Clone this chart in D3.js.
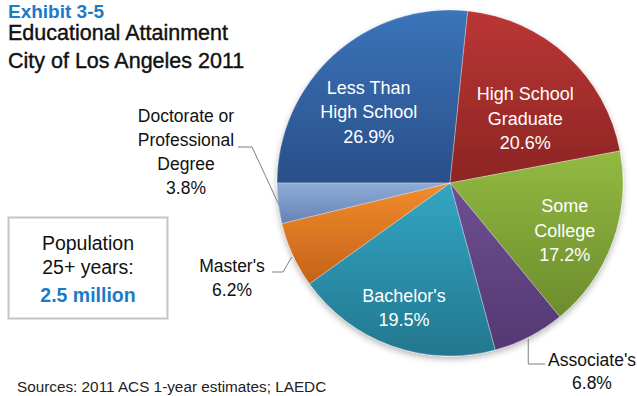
<!DOCTYPE html>
<html>
<head>
<meta charset="utf-8">
<script src="https://cdn.jsdelivr.net/npm/d3@7"></script>
<style>
  html, body { margin: 0; padding: 0; background: #fff; }
  svg { display: block; }
  text { font-family: "Liberation Sans", Arial, sans-serif; }
</style>
</head>
<body>
<svg id="chart" width="637" height="396"></svg>
<script>
// Educational attainment, population 25+ years, City of Los Angeles 2011
const categories = ["Less Than High School", "High School Graduate", "Some College",
                    "Associate's", "Bachelor's", "Master's", "Doctorate or Professional Degree"];
const shares = [26.9, 20.6, 17.2, 6.8, 19.5, 6.2, 3.8];
const labelLines = [
  ["Less Than", "High School"],
  ["High School", "Graduate"],
  ["Some", "College"],
  ["Associate's"],
  ["Bachelor's"],
  ["Master's"],
  ["Doctorate or", "Professional", "Degree"]
];
const colorsTop    = ["#3b74ba", "#bb3635", "#93ba42", "#6e4f92", "#33a6c3", "#f28c2c", "#8eabd9"];
const colorsBottom = ["#294f88", "#8c2523", "#6c8c2c", "#533872", "#23778f", "#c4621a", "#6683b5"];

const svg = d3.select("#chart");
const defs = svg.append("defs");

const cx = 450, cy = 183, R = 173;

// vertical shading for each slice
colorsTop.forEach((c, i) => {
  const g = defs.append("linearGradient")
    .attr("id", "grad" + i)
    .attr("x1", 0).attr("y1", 0).attr("x2", 0).attr("y2", 1);
  g.append("stop").attr("offset", "0%").attr("stop-color", c);
  g.append("stop").attr("offset", "100%").attr("stop-color", colorsBottom[i]);
});

const shadow = defs.append("filter").attr("id", "shadow")
  .attr("x", "-10%").attr("y", "-10%").attr("width", "120%").attr("height", "125%");
shadow.append("feDropShadow").attr("dx", 0).attr("dy", 3)
  .attr("stdDeviation", 3).attr("flood-color", "#000").attr("flood-opacity", 0.28);

// Titles
svg.append("text").attr("x", 8).attr("y", 17.5)
  .attr("font-size", 19).attr("font-weight", "bold").attr("fill", "#1b7bc9")
  .text("Exhibit 3-5");
svg.append("text").attr("x", 8).attr("y", 39.5)
  .attr("font-size", 21.5).attr("fill", "#111").attr("stroke", "#111").attr("stroke-width", 0.4)
  .text("Educational Attainment");
svg.append("text").attr("x", 8).attr("y", 67.5)
  .attr("font-size", 21.5).attr("fill", "#111").attr("stroke", "#111").attr("stroke-width", 0.4)
  .text("City of Los Angeles 2011");

// Pie
const pie = d3.pie().sort(null).value(d => d)
  .startAngle(-Math.PI / 2).endAngle(3 * Math.PI / 2);
const arcs = pie(shares);
const arc = d3.arc().innerRadius(0).outerRadius(R);

const g = svg.append("g").attr("transform", `translate(${cx},${cy})`);
g.append("g").attr("filter", "url(#shadow)")
  .selectAll("path").data(arcs).join("path")
  .attr("d", arc)
  .attr("fill", (d, i) => `url(#grad${i})`)
  .attr("stroke", "rgba(255,255,255,0.5)")
  .attr("stroke-width", 0.6);

// Inside labels: [radius as a fraction of R, position along the slice's sweep]
const inside = { 0: [0.625, 0.43], 1: [0.574, 0.59], 2: [0.718, 0.54], 4: [0.767, 0.51] };
const lineH = 24.5;
Object.entries(inside).forEach(([k, [f, t]]) => {
  const i = +k;
  const a = arcs[i];
  const ang = a.startAngle + t * (a.endAngle - a.startAngle);
  const c = [R * f * Math.sin(ang), -R * f * Math.cos(ang)];
  const lines = labelLines[i].concat([shares[i].toFixed(1) + "%"]);
  const txt = g.append("text").attr("text-anchor", "middle")
    .attr("font-size", 18).attr("fill", "#fff");
  lines.forEach((s, j) => {
    txt.append("tspan").attr("x", c[0])
      .attr("y", c[1] + (j - (lines.length - 1) / 2) * lineH + 6.5)
      .text(s);
  });
});

// Outside labels with leader lines
const edge = d3.arc().innerRadius(R).outerRadius(R);
const leader = d3.line();

// Associate's
{
  const p = edge.centroid(arcs[3]);
  const pts = [[p[0] - 1, p[1] + 2], [p[0] - 1, 181], [95, 181]];
  g.append("path").attr("d", leader(pts)).attr("fill", "none")
    .attr("stroke", "#7f7f7f").attr("stroke-width", 1);
  const t = g.append("text").attr("text-anchor", "middle").attr("font-size", 17.5).attr("fill", "#111");
  t.append("tspan").attr("x", 142).attr("y", 183).text(labelLines[3][0]);
  t.append("tspan").attr("x", 142).attr("y", 206).text(shares[3].toFixed(1) + "%");
}
// Master's
{
  const p = edge.centroid(arcs[5]);
  const pts = [[p[0] - 1, p[1] + 2], [-167, 89], [-178, 89]];
  g.append("path").attr("d", leader(pts)).attr("fill", "none")
    .attr("stroke", "#7f7f7f").attr("stroke-width", 1);
  const t = g.append("text").attr("text-anchor", "middle").attr("font-size", 17.5).attr("fill", "#111");
  t.append("tspan").attr("x", -218).attr("y", 89).text(labelLines[5][0]);
  t.append("tspan").attr("x", -218).attr("y", 113).text(shares[5].toFixed(1) + "%");
}
// Doctorate or Professional Degree
{
  const p = edge.centroid(arcs[6]);
  const pts = [[p[0] + 1, p[1] + 2], [-198, -36], [-212, -36]];
  g.append("path").attr("d", leader(pts)).attr("fill", "none")
    .attr("stroke", "#7f7f7f").attr("stroke-width", 1);
  const lines = labelLines[6].concat([shares[6].toFixed(1) + "%"]);
  const t = g.append("text").attr("text-anchor", "middle").attr("font-size", 17.5).attr("fill", "#111");
  lines.forEach((s, j) => {
    t.append("tspan").attr("x", -264).attr("y", -61.5 + j * 24.3).text(s);
  });
}

// Population box
svg.append("rect").attr("x", 8.5).attr("y", 217.5).attr("width", 159).attr("height", 101)
  .attr("fill", "#fff").attr("stroke", "#c4c4c4").attr("stroke-width", 2);
const pop = svg.append("text").attr("text-anchor", "middle").attr("font-size", 19.5);
pop.append("tspan").attr("x", 88).attr("y", 250).attr("fill", "#111").text("Population");
pop.append("tspan").attr("x", 88).attr("y", 274).attr("fill", "#111").text("25+ years:");
pop.append("tspan").attr("x", 88).attr("y", 302).attr("fill", "#1b7bc9")
  .attr("font-weight", "bold").text("2.5 million");

// Source note
svg.append("text").attr("x", 17).attr("y", 392).attr("font-size", 15.3).attr("fill", "#222")
  .text("Sources: 2011 ACS 1-year estimates; LAEDC");
</script>
</body>
</html>
